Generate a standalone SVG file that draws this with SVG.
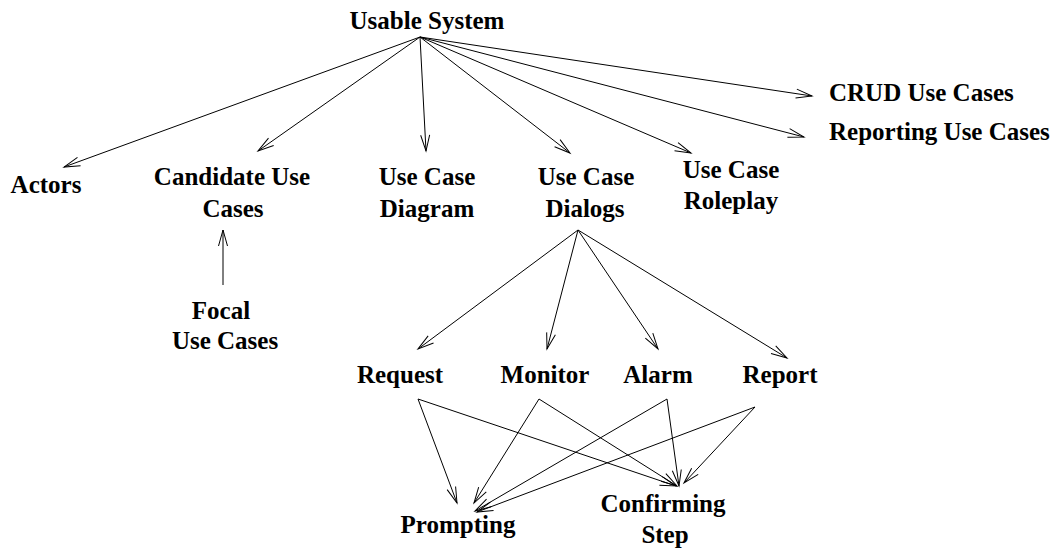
<svg xmlns="http://www.w3.org/2000/svg" width="1057" height="549" viewBox="0 0 1057 549">
<style>
text{font-family:"Liberation Serif","Times New Roman",serif;font-weight:bold;font-size:25px;fill:#000;text-anchor:middle}
.s{text-anchor:start}
#edges line{stroke:#000;stroke-width:1;marker-end:url(#ah)}
</style>
<defs>
<marker id="ah" markerUnits="userSpaceOnUse" markerWidth="20" markerHeight="12" viewBox="-17 -6 18 12" refX="0" refY="0" orient="auto" overflow="visible">
<path d="M-16,-4.5 L0,0 L-16,4.5" fill="none" stroke="#000" stroke-width="1"/>
</marker>
</defs>
<rect width="1057" height="549" fill="#fff"/>
<g id="edges">
<line x1="420" y1="37" x2="64" y2="167"/>
<line x1="420" y1="37" x2="258" y2="151"/>
<line x1="420" y1="37" x2="426" y2="151"/>
<line x1="420" y1="37" x2="570" y2="153"/>
<line x1="420" y1="37" x2="691" y2="153"/>
<line x1="420" y1="37" x2="812" y2="96"/>
<line x1="420" y1="37" x2="804" y2="137"/>
<line x1="223" y1="285" x2="223" y2="230"/>
<line x1="578" y1="230" x2="418" y2="349"/>
<line x1="578" y1="230" x2="547" y2="349"/>
<line x1="578" y1="230" x2="658" y2="349"/>
<line x1="578" y1="230" x2="787" y2="358"/>
<line x1="418" y1="399" x2="457" y2="503"/>
<line x1="418" y1="399" x2="676" y2="486"/>
<line x1="539" y1="399" x2="474" y2="503"/>
<line x1="539" y1="399" x2="677" y2="486"/>
<line x1="667" y1="399" x2="475" y2="511"/>
<line x1="667" y1="399" x2="679" y2="486"/>
<line x1="755" y1="407" x2="477" y2="512"/>
<line x1="755" y1="407" x2="684" y2="483"/>
</g>
<g id="usable-system"><text x="427" y="29">Usable System</text></g>
<g id="actors"><text x="46" y="193">Actors</text></g>
<g id="candidate-use-cases"><text x="232" y="185">Candidate Use</text><text x="233" y="217">Cases</text></g>
<g id="use-case-diagram"><text x="427" y="185">Use Case</text><text x="427" y="217">Diagram</text></g>
<g id="use-case-dialogs"><text x="586" y="185">Use Case</text><text x="585" y="217">Dialogs</text></g>
<g id="use-case-roleplay"><text x="731" y="178">Use Case</text><text x="731" y="209">Roleplay</text></g>
<g id="crud-use-cases"><text class="s" x="829" y="101">CRUD Use Cases</text></g>
<g id="reporting-use-cases"><text class="s" x="829" y="140">Reporting Use Cases</text></g>
<g id="focal-use-cases"><text x="221" y="319">Focal</text><text x="225" y="349">Use Cases</text></g>
<g id="request"><text x="400" y="383">Request</text></g>
<g id="monitor"><text x="545" y="383">Monitor</text></g>
<g id="alarm"><text x="658" y="383">Alarm</text></g>
<g id="report"><text x="780" y="383">Report</text></g>
<g id="prompting"><text x="458" y="533">Prompting</text></g>
<g id="confirming-step"><text x="663" y="512">Confirming</text><text x="665" y="543">Step</text></g>
</svg>
